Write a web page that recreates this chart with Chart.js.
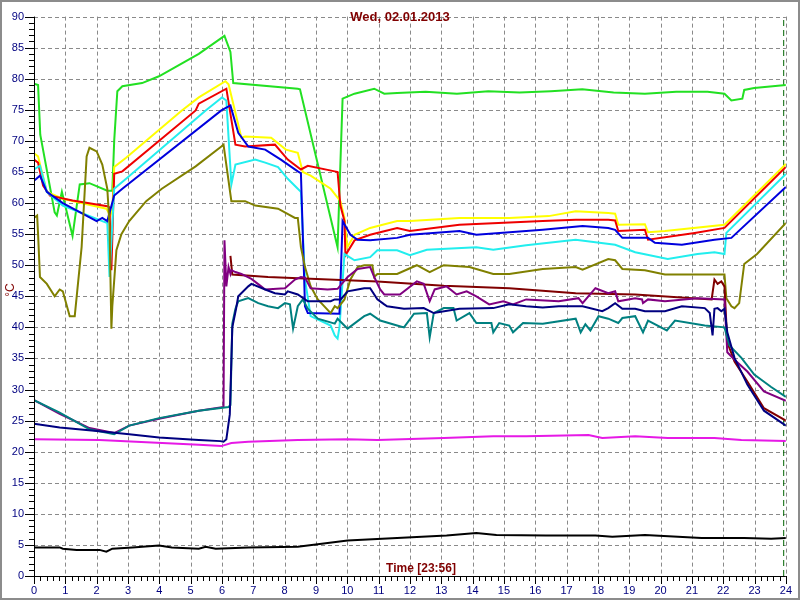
<!DOCTYPE html>
<html>
<head>
<meta charset="utf-8">
<script src="https://cdn.jsdelivr.net/npm/chart.js@4.4.0/dist/chart.umd.min.js"></script>
<style>
html,body{margin:0;padding:0;background:#fff;}
#c{display:block;}
</style>
</head>
<body>
<canvas id="c" width="800" height="600"></canvas>
<script>
// ---- DATA (hours, °C) ----
const titleText = "Wed, 02.01.2013";
const timeLabel = "Time [23:56]";
const yAxisLabel = "°C";
const cursorTime = 23.93;
const xTicks = [0,1,2,3,4,5,6,7,8,9,10,11,12,13,14,15,16,17,18,19,20,21,22,23,24];
const yTicks = [0,5,10,15,20,25,30,35,40,45,50,55,60,65,70,75,80,85,90];

const greenT = [0,0.13,0.2,0.66,0.73,0.89,1.23,1.46,1.77,2.34,2.5,2.56,2.66,2.82,3.45,3.99,5.26,6.08,6.27,6.36,8.42,8.49,9.69,9.85,10.23,10.86,11.18,11.59,12.5,13.5,14.5,15.5,16.5,17.5,18.5,19.5,20.5,21.5,22.04,22.26,22.61,22.67,22.99,24];
const greenV = [79.2,79.0,71,58.5,58,61.8,54.7,63,63.2,62,62,70,78,78.8,79.3,80.4,84,86.9,84.3,79.3,78.4,78.3,52.9,76.8,77.6,78.4,77.6,77.7,77.9,77.6,78,77.8,78,78.3,77.8,77.6,77.9,77.9,77.6,76.5,76.8,78.2,78.5,79];

const yellowT = [0,0.13,0.41,0.92,2.31,2.44,2.5,2.56,2.94,4.72,5.26,6.11,6.21,6.62,6.74,7.57,8.04,8.42,8.58,8.83,9.47,9.78,9.91,10.0,10.23,10.73,11.59,12.0,13.58,15.17,16.43,17.29,18.33,18.55,18.65,19.5,19.6,20.14,22.04,22.26,24];
const yellowV = [68,67.5,61.8,60.7,59.1,58,59,65.8,67.3,74.9,77,79.6,79.1,70.5,70.7,70.5,68.6,68.1,65,64.4,62.3,60.3,57.6,52.9,54.9,56,57.1,57.1,57.6,57.6,57.9,58.7,58.4,58.3,56.5,56.6,55.3,55.5,56.5,57.6,66.3];

const redT = [0,0.13,0.29,0.51,1.23,2.34,2.41,2.47,2.56,2.82,5.16,5.26,6.14,6.43,6.74,7.69,8.1,8.52,8.74,9.6,9.69,9.78,9.91,9.94,10.23,10.73,11.59,12.0,13.58,16.24,17.29,18.33,18.55,18.65,19.5,19.6,21.09,22.04,24];
const redV = [67,66.5,62.8,61.2,60.4,59.5,59.3,49.2,64.7,65.1,74.9,76,78.4,69.4,69.1,69.4,67,65.4,66,65.1,65,59.6,57.1,51.6,54,54.9,56,55.5,56.5,57.1,57.3,57.3,57.2,55.5,55.7,54.1,55.2,56,65.8];

const cyanT = [0,0.19,0.41,0.92,2.18,2.34,2.41,2.56,2.94,5.48,6.0,6.14,6.3,6.43,7.06,7.38,7.79,8.1,8.42,8.52,8.65,8.83,9.47,9.6,9.69,9.75,9.91,10.23,10.73,10.96,11.59,12.0,12.54,14.12,14.66,15.71,17.29,18.55,19.19,20.23,21.18,21.72,22.04,22.1,24];
const cyanV = [65.4,66,61.8,59.6,57.1,56.8,48.1,62.3,63.9,74.9,77,76.5,63,66.2,67,66.5,65.8,63.9,62.3,61.8,47.7,41.8,40.3,38.7,38.2,40,51.8,50.8,51.3,52.4,52.4,51.6,52.5,52.9,52.5,53.2,54.1,53.3,52.1,51,51.8,52.1,51.8,55.2,64.7];

const blueT = [0,0.19,0.41,0.92,2.0,2.18,2.34,2.56,2.82,5.98,6.27,6.52,6.84,7.38,7.88,8.42,8.52,8.65,8.74,9.75,9.85,10.1,10.33,10.73,11.59,12.0,13.58,14.12,16.24,17.51,18.33,18.55,18.78,19.6,19.82,20.68,21.72,22.26,24];
const blueV = [63.6,64.4,61.8,60,57.1,57.6,57.1,61.2,62.3,74.9,75.7,71.3,69.1,68.6,67,65.1,64.8,43.4,42.3,42.2,57.1,54.9,54.1,54,54.4,54.9,55.5,54.9,55.7,56.3,56,55.7,54.4,54.4,53.6,53.3,54.1,54.4,62.6];

const oliveT = [0,0.1,0.13,0.19,0.41,0.66,0.82,0.92,1.14,1.3,1.52,1.68,1.77,2.0,2.18,2.34,2.41,2.47,2.5,2.63,2.79,3.04,3.58,4.08,5.16,5.98,6.05,6.3,6.74,7.06,7.79,8.33,8.42,8.52,8.65,8.83,9.06,9.47,9.6,9.69,9.91,10.1,10.33,10.54,10.8,10.86,10.96,11.59,12.22,12.63,13.08,13.9,14.66,15.17,16.24,17.29,17.51,18.33,18.55,18.78,19.5,20.14,21.15,22.04,22.1,22.26,22.36,22.51,22.67,23.08,24];
const oliveV = [57.6,58,55,48.1,47,45,46.1,45.8,41.8,41.8,52.9,67.5,68.9,68.3,66.2,62.3,56.5,39.8,43.4,52.4,55,57.1,60.3,62.3,65.9,69.1,69.4,60.3,60.3,59.6,59.1,57.6,57.6,52.9,49.7,46.6,44.5,42.3,43.4,43.1,44.5,47.7,49.7,50,50,48.1,48.6,48.6,50,48.9,50,49.7,48.6,48.6,49.4,49.7,49.3,51,50.8,49.4,49.2,48.5,48.5,48.5,44.7,43.4,43.1,43.9,50.2,51.8,56.8];

const maroonT = [6.27,6.33,7.47,10.96,13.08,15.17,17.29,19.19,21.63,21.72,21.82,21.94,22.04,22.13,22.36,22.77,23.3,24];
const maroonV = [51.5,48.5,48.1,47.4,46.7,46.3,45.5,45.3,44.5,47.7,47,47.4,46.6,37.6,34.5,31.3,27,25];

const purpleT = [0,0.82,1.77,2.56,3.04,3.99,5.26,6.05,6.08,6.14,6.21,6.27,6.3,6.43,6.62,6.94,7.25,7.38,8.01,8.33,8.52,8.65,8.83,9.37,9.69,10.01,10.33,10.73,10.86,11.05,11.18,11.68,12.22,12.44,12.63,12.79,13.17,13.49,13.81,14.12,14.53,14.98,15.29,15.71,16.75,17.38,17.51,17.92,18.33,18.55,18.65,19.19,19.41,19.44,19.6,20.14,21.18,22.04,22.13,22.36,22.77,23.3,24];
const purpleV = [28.3,26.1,23.8,23,24.2,25.3,26.6,27.2,54,46.6,49.7,48.6,49.2,48.9,48.6,47.8,46.6,46.1,46.3,47.7,48.1,48,46.3,46.1,46.2,48.1,49.4,49.7,48.1,46.1,45.3,45.3,47.4,47,44.2,46.1,46.6,45.3,45.8,45,43.7,44.2,43.7,44.5,44.2,44.7,43.9,46.3,45.5,45.8,44.2,44.7,44.5,43.9,44.5,44.2,44.7,44.5,36,34.8,32.9,29.7,28.2];

const tealT = [0,0.82,1.77,2.56,3.04,3.99,5.26,6.21,6.27,6.33,6.43,6.52,6.84,7.16,7.47,7.79,8.01,8.17,8.27,8.42,8.58,8.74,9.06,9.6,9.69,10.01,10.54,10.73,11.05,11.59,11.81,12.13,12.54,12.63,12.76,13.08,13.39,13.49,13.9,14.12,14.6,14.66,14.85,15.17,15.29,15.61,16.24,17.29,17.45,17.6,17.76,18.02,18.33,18.65,18.78,19.19,19.44,19.6,20.2,20.46,21.41,22.04,22.2,22.58,22.99,23.53,24];
const tealV = [28.3,26.3,23.6,22.8,24.2,25.4,26.6,27.2,27.5,40.6,43,44.2,44.7,43.9,43.4,43.1,43.9,43.7,39.8,43.4,44.5,43,41.4,40.6,41.4,39.8,41.8,42.2,41.1,40.3,40,42.2,42.3,38.4,42.3,43.1,43.1,41.1,42.3,40.7,40.7,39.2,40.7,40.3,39.2,40.7,40.6,41.4,39.2,40.5,39.5,41.8,41.4,40.7,41.5,41.8,39.2,41.1,39.5,41.1,40.3,40,37.1,35.1,32.4,30.4,28.8];

const navyT = [0,0.82,2.09,3.04,3.99,5.26,5.95,6.05,6.14,6.25,6.33,6.45,6.52,6.84,6.94,7.38,7.69,8.01,8.1,8.42,8.74,9.47,9.6,9.79,10.01,10.33,10.54,10.73,10.96,11.18,11.27,11.81,12.44,12.76,13.58,14.66,15.17,15.71,16.24,16.75,17.51,18.14,18.33,18.55,18.78,19.19,19.5,20.14,20.68,21.41,21.57,21.66,21.72,21.82,21.94,22.04,22.13,22.36,22.77,23.3,24];
const navyV = [24.5,23.9,23.3,22.8,22.3,21.9,21.7,21.6,22,26,40,43,45,46.6,47,46.1,45.5,45.3,45.8,45.3,44.2,44.2,44.5,44.5,45.8,46.1,46.3,46.3,44.5,43.7,43.4,43,43.1,42.3,43,43.1,43.7,43.4,43.2,43.4,43.4,42.6,43.1,43.9,43,43,42.6,42.6,43.4,43.1,42.3,38.7,43,43.1,42.6,43,39.2,35.1,30.8,26.6,24.2];

const magentaT = [0,2.09,5.26,5.98,6.3,6.84,8.42,10.01,10.96,13.08,14.66,15.71,17.7,18.14,19.19,20.23,21.72,22.58,24];
const magentaV = [22,21.9,21.1,20.9,21.4,21.6,21.9,22,21.9,22.2,22.5,22.5,22.7,22.2,22.5,22.2,22.2,21.9,21.7];

const blackT = [0,0.82,0.92,1.36,2.09,2.31,2.5,3.14,3.99,4.4,5.26,5.48,5.8,6.84,8.42,10.01,11.59,13.17,14.12,14.76,16.34,17.92,18.46,19.5,21.31,22.67,23.53,24];
const blackV = [4.6,4.6,4.4,4.2,4.2,3.9,4.4,4.6,4.9,4.6,4.4,4.7,4.4,4.6,4.7,5.7,6.1,6.5,6.9,6.6,6.5,6.5,6.3,6.6,6.1,6.1,6.0,6.1];

// ---- build ----
function pts(T, V){ return T.map((t,i)=>({x:t,y:V[i]})); }
function ds(label, T, V, color){
  return {label, data: pts(T,V), borderColor: color, backgroundColor: color, borderWidth: 2, pointRadius: 0, tension: 0, fill: false};
}
const datasets = [
  ds('black', blackT, blackV, '#000000'),
  ds('magenta', magentaT, magentaV, '#e619e6'),
  ds('navy', navyT, navyV, '#000080'),
  ds('teal', tealT, tealV, '#008080'),
  ds('purple', purpleT, purpleV, '#800080'),
  ds('maroon', maroonT, maroonV, '#800000'),
  ds('olive', oliveT, oliveV, '#808000'),
  ds('blue', blueT, blueV, '#0000dd'),
  ds('cyan', cyanT, cyanV, '#22eeee'),
  ds('red', redT, redV, '#ee0000'),
  ds('yellow', yellowT, yellowV, '#ffff00'),
  ds('green', greenT, greenV, '#22e022'),
  {label:'cursor', data:[{x:cursorTime,y:0},{x:cursorTime,y:90}], borderColor:'#006400', borderWidth:1, borderDash:[6,4], pointRadius:0, fill:false}
];

const FONT = "'Liberation Sans', Arial, sans-serif";

const decor = {
  id: 'decor',
  beforeDraw(chart){
    const ctx = chart.ctx;
    ctx.save();
    ctx.fillStyle = '#fff';
    ctx.fillRect(0,0,chart.width,chart.height);
    ctx.restore();
  },
  beforeDatasetsDraw(chart){
    const ctx = chart.ctx, xs = chart.scales.x, ys = chart.scales.y;
    const a = chart.chartArea;
    ctx.save();
    ctx.strokeStyle = '#8a8a8a';
    ctx.lineWidth = 1;
    ctx.setLineDash([4,3]);
    ctx.beginPath();
    xTicks.forEach(v => {
      if (v === 0) return;
      const x = Math.round(xs.getPixelForValue(v)) + 0.5;
      ctx.moveTo(x, a.top); ctx.lineTo(x, a.bottom);
    });
    yTicks.forEach(v => {
      if (v === 0) return;
      const y = Math.round(ys.getPixelForValue(v)) + 0.5;
      ctx.moveTo(a.left, y); ctx.lineTo(a.right, y);
    });
    ctx.stroke();
    ctx.restore();
  },
  afterDraw(chart){
    const ctx = chart.ctx, xs = chart.scales.x, ys = chart.scales.y;
    const a = chart.chartArea;
    ctx.save();
    ctx.strokeStyle = '#000';
    ctx.lineWidth = 1;
    ctx.beginPath();
    for (let v = 0; v <= 90; v++){
      const y = Math.round(ys.getPixelForValue(v)) + 0.5;
      const len = (v % 5 === 0) ? 9 : 5;
      ctx.moveTo(a.left - len, y); ctx.lineTo(a.left, y);
    }
    for (let i = 0; i <= 120; i++){
      const x = Math.round(xs.getPixelForValue(i/5)) + 0.5;
      const len = (i % 5 === 0) ? 8 : 5;
      ctx.moveTo(x, a.bottom); ctx.lineTo(x, a.bottom + len);
    }
    ctx.stroke();
    ctx.beginPath();
    ctx.moveTo(a.left + 0.5, a.top); ctx.lineTo(a.left + 0.5, a.bottom + 0.5);
    ctx.lineTo(a.right, a.bottom + 0.5);
    ctx.stroke();
    ctx.fillStyle = '#800000';
    ctx.textAlign = 'center';
    ctx.textBaseline = 'middle';
    ctx.font = 'bold 13px ' + FONT;
    ctx.fillText(titleText, 400, 17);
    ctx.font = 'bold 12px ' + FONT;
    ctx.fillText(timeLabel, 421, 569);
    ctx.save();
    ctx.translate(11, 290);
    ctx.rotate(-Math.PI/2);
    ctx.font = '12px ' + FONT;
    ctx.fillText(yAxisLabel, 0, 0);
    ctx.restore();
    ctx.strokeStyle = '#8c8c8c';
    ctx.lineWidth = 2;
    ctx.strokeRect(1, 1, chart.width - 2, chart.height - 2);
    ctx.restore();
  }
};

new Chart(document.getElementById('c'), {
  type: 'line',
  data: { datasets },
  plugins: [decor],
  options: {
    responsive: false,
    animation: false,
    devicePixelRatio: 1,
    layout: { padding: { top: 4, right: 8, left: 0, bottom: 0 } },
    plugins: { legend: { display: false }, tooltip: { enabled: false }, title: { display: false } },
    scales: {
      x: {
        type: 'linear', min: 0, max: 24,
        afterFit(s){ s.height = 24; },
        afterBuildTicks(s){ s.ticks = xTicks.map(v => ({value: v})); },
        ticks: { padding: 8, color: '#000080', font: { family: FONT, size: 11 }, maxRotation: 0, autoSkip: false },
        grid: { display: false, drawTicks: false },
        border: { display: false }
      },
      y: {
        type: 'linear', min: 0, max: 90,
        afterFit(s){ s.width = 34; },
        afterBuildTicks(s){ s.ticks = yTicks.map(v => ({value: v})); },
        ticks: { padding: 10, color: '#000080', font: { family: FONT, size: 11 }, autoSkip: false },
        grid: { display: false, drawTicks: false },
        border: { display: false }
      }
    }
  }
});
</script>
</body>
</html>
